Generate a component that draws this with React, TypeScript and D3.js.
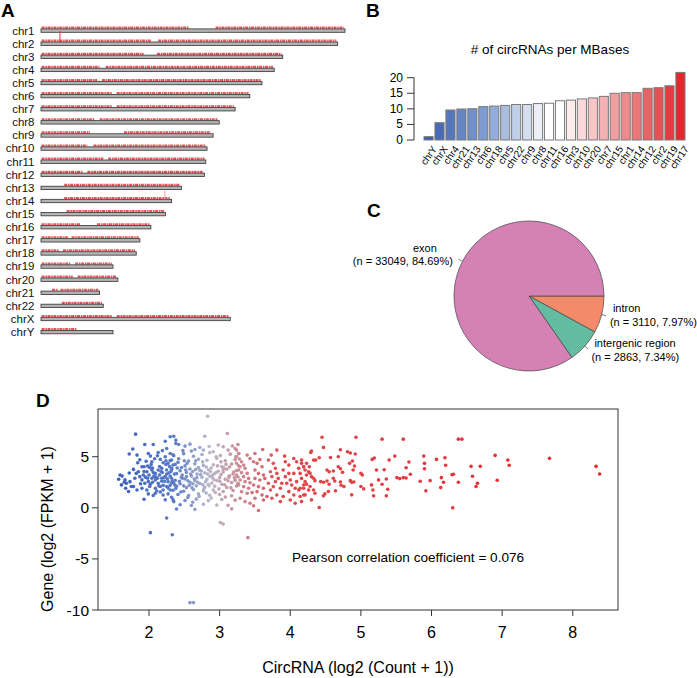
import React from "react";
import * as d3 from "d3";

const W = 697,
  H = 678;
const font = "'Liberation Sans', Arial, Helvetica, sans-serif";

// ---- panel A: chromosomes (Mb) ----
const chromNames = ["chr1", "chr2", "chr3", "chr4", "chr5", "chr6", "chr7", "chr8", "chr9", "chr10", "chr11", "chr12",
  "chr13", "chr14", "chr15", "chr16", "chr17", "chr18", "chr19", "chr20", "chr21", "chr22", "chrX", "chrY"];
const chromLengths = [249, 243, 198, 191, 181, 171, 159, 146, 141, 136, 135, 134, 115, 107, 102, 90, 81, 78, 59, 63, 48, 51, 155, 59];
// stretches of each chromosome carrying circRNAs (Mb)
const circRanges = [
  [[0.5, 121], [143, 248]],
  [[0.5, 90], [96, 242]],
  [[0.5, 84], [95, 197]],
  [[0.5, 48], [53, 190]],
  [[0.5, 46], [50, 180]],
  [[0.5, 58], [62, 170]],
  [[0.5, 58], [62, 158]],
  [[0.5, 44], [48, 145]],
  [[0.5, 40], [68, 139]],
  [[0.5, 38], [43, 135]],
  [[0.5, 51], [55, 134]],
  [[0.5, 34], [38, 133]],
  [[19, 114]],
  [[19, 106]],
  [[21, 101]],
  [[0.5, 32], [46, 89]],
  [[0.5, 22], [25, 80]],
  [[0.5, 15], [18, 77]],
  [[0.5, 24], [28, 58]],
  [[0.5, 26], [30, 62]],
  [[9, 14], [16, 47]],
  [[17, 50]],
  [[0.5, 58], [62, 154]],
  [[0.5, 29]],
];
const spikeChroms = ["chr2", "chr14"];
const spikePos = [15.5, 101.5];
const spikeValues = [10, 8];

// ---- panel B ----
const barChroms = ["chrY", "chrX", "chr4", "chr21", "chr13", "chr6", "chr18", "chr5", "chr22", "chr9", "chr8", "chr11",
  "chr16", "chr3", "chr10", "chr20", "chr7", "chr15", "chr1", "chr14", "chr12", "chr2", "chr19", "chr17"];
const barValues = [1.07, 5.56, 9.63, 9.95, 10.05, 10.7, 10.9, 11.1, 11.4, 11.4, 11.7, 11.8,
  12.6, 12.8, 13.2, 13.5, 14.0, 15.0, 15.2, 15.2, 16.6, 16.8, 17.4, 21.7];
const barTicks = [0, 5, 10, 15, 20];

// ---- panel C ----
const pieLabels = ["intron", "intergenic region", "exon"];
const pieCounts = [3110, 2863, 33049];
const pieColors = ["#f38a6a", "#63bba0", "#d581b6"];

// ---- panel D ----
const ptsBlue = [
  [1.81, 7.21], [1.94, 6.2], [2.06, 6.2], [2.23, 6.52], [2.30, 6.95], [1.77, 5.75], [1.72, 5.26], [1.83, 5.16],
  [1.99, 5.32], [2.02, 5.06], [2.13, 5.42], [2.04, 4.51], [2.25, 5.81], [2.30, 5.32], [2.23, 5.0], [2.32, 4.67],
  [1.84, 4.41], [1.90, 4.02], [1.93, 4.02], [1.98, 4.09], [2.16, 4.74], [2.20, 4.41], [2.27, 4.35], [2.34, 4.18],
  [1.78, 3.76], [1.85, 3.53], [1.82, 3.37], [1.87, 3.05], [1.92, 3.21], [1.97, 3.53], [2.04, 3.70], [2.09, 3.37],
  [2.13, 3.70], [2.18, 3.86], [2.25, 3.70], [2.32, 3.86], [1.59, 3.21], [1.62, 3.12], [1.57, 2.79], [1.66, 2.73],
  [1.61, 2.24], [1.68, 2.40], [1.73, 2.56], [1.75, 2.08], [1.80, 2.89], [1.90, 2.73], [1.94, 2.40], [1.99, 2.56],
  [2.04, 2.89], [2.09, 2.73], [2.13, 2.40], [2.18, 2.89], [2.23, 3.05], [2.27, 2.56], [2.32, 2.89], [2.35, 2.40],
  [1.67, 1.91], [1.71, 1.59], [1.78, 2.08], [1.83, 1.75], [1.90, 1.91], [1.97, 1.75], [2.01, 2.08], [2.09, 1.91],
  [2.16, 2.08], [2.20, 1.75], [2.25, 2.08], [2.30, 1.75], [1.99, 1.36], [2.09, 1.43], [2.20, 1.26], [2.27, 1.36],
  [2.32, 1.04], [1.93, 0.84], [2.23, 0.78], [2.35, 0.61], [1.95, 3.0], [2.0, 3.2], [2.05, 2.5], [2.1, 3.0],
  [2.15, 3.2], [2.2, 2.2], [2.25, 3.3], [2.3, 2.2], [2.12, 2.9], [2.07, 3.1], [2.18, 2.6], [2.28, 3.4],
  [2.22, 2.6], [1.98, 2.9], [2.02, 2.3], [2.06, 3.45], [2.14, 2.15], [2.19, 3.45], [2.26, 2.85], [2.11, 1.65],
  [1.88, 2.35], [1.93, 3.55], [2.03, 4.25], [2.15, 4.05], [2.29, 4.05], [2.24, 4.6], [2.08, 4.8], [1.96, 4.55],
  [2.36, 3.3], [2.33, 2.65], [2.38, 6.3], [2.42, 6.2],
  [2.05, 3.9], [2.17, 3.55], [2.21, 2.95], [2.31, 3.55], [2.27, 1.95], [2.16, 1.55], [2.06, 1.2], [2.12, 5.1],
  [2.19, 5.6], [2.34, 5.2], [1.87, 4.7], [1.72, 3.4], [1.65, 2.5], [2.01, 3.95], [2.24, 4.25], [2.37, 2.2],
];
const ptsMid = [
  [2.35, 5.1], [2.49, 5.3], [2.63, 5.05], [2.75, 5.22], [2.86, 5.4], [3.01, 5.12], [3.15, 5.25], [3.24, 5.0],
  [2.30, 4.62], [2.42, 4.8], [2.56, 4.58], [2.70, 4.75], [2.82, 4.66], [2.96, 4.85], [3.08, 4.6], [3.22, 4.72],
  [2.37, 4.25], [2.51, 4.1], [2.65, 4.3], [2.77, 4.15], [2.91, 4.22], [3.03, 4.05], [3.17, 4.28], [3.27, 4.12],
  [2.32, 3.75], [2.44, 3.62], [2.58, 3.8], [2.72, 3.66], [2.84, 3.72], [2.98, 3.58], [3.10, 3.78], [3.24, 3.65],
  [2.39, 3.35], [2.53, 3.46], [2.68, 3.3], [2.79, 3.42], [2.93, 3.36], [3.05, 3.5], [3.19, 3.32],
  [2.30, 3.1], [2.46, 2.98], [2.60, 3.12], [2.75, 3.0], [2.86, 3.08], [3.0, 2.95], [3.14, 3.14], [3.26, 3.02],
  [2.37, 2.7], [2.51, 2.82], [2.65, 2.66], [2.82, 2.78], [2.96, 2.68], [3.08, 2.8], [3.22, 2.7],
  [2.32, 2.45], [2.44, 2.35], [2.58, 2.5], [2.72, 2.38], [2.89, 2.42], [3.03, 2.3], [3.17, 2.48],
  [2.39, 2.1], [2.53, 1.98], [2.67, 2.15], [2.79, 2.04], [2.93, 2.12], [3.1, 2.0], [3.24, 2.14],
  [2.34, 1.72], [2.49, 1.62], [2.63, 1.78], [2.77, 1.66], [2.91, 1.74], [3.05, 1.6], [3.19, 1.7],
  [2.41, 1.3], [2.56, 1.2], [2.70, 1.34], [2.86, 1.22], [3.0, 1.3], [3.17, 1.18],
  [2.34, 0.8], [2.51, 0.72], [2.67, 0.85], [2.84, 0.7], [3.03, 0.82], [3.22, 0.75],
  [2.44, 0.3], [2.60, 0.22], [2.77, 0.35], [2.96, 0.28], [3.12, 0.24], [2.39, -0.12], [2.65, -0.15], [3.17, -0.1],
  [2.40, 3.9], [2.47, 3.2], [2.55, 2.65], [2.62, 3.55], [2.68, 2.95], [2.73, 3.25], [2.80, 2.55], [2.88, 3.9],
  [2.43, 2.6], [2.52, 3.7], [2.57, 2.2], [2.64, 2.85], [2.70, 3.95], [2.76, 2.25], [2.83, 3.3], [2.90, 2.95],
  [2.95, 3.45], [3.0, 2.6], [3.06, 3.9], [3.12, 2.65], [3.2, 3.5], [3.26, 2.4],
  [2.35, 7.01], [2.38, 6.62], [2.51, 6.04], [2.58, 6.23], [2.65, 5.71], [2.77, 5.65], [2.91, 5.49], [2.98, 6.14],
  [3.05, 5.97], [3.12, 5.65], [3.22, 5.81], [3.27, 5.32],
  [2.41, 4.45], [2.46, 3.95], [2.49, 2.15], [2.54, 4.35], [2.59, 3.3], [2.61, 1.95], [2.66, 4.6], [2.69, 2.5],
  [2.74, 3.6], [2.78, 1.9], [2.81, 4.0], [2.85, 2.15], [2.87, 3.55], [2.92, 2.75], [2.97, 4.1], [2.99, 1.85],
  [3.02, 3.25], [3.07, 2.25], [3.09, 4.25], [3.13, 3.0], [3.16, 1.95], [3.21, 2.95], [2.45, 1.55], [2.55, 1.0],
  [2.62, 0.55], [2.71, 1.1], [2.81, 1.45], [2.88, 0.95], [2.94, 1.5], [3.08, 1.05], [2.48, 5.6], [2.6, 5.55],
  [2.72, 5.9], [2.85, 6.0], [2.95, 5.0], [3.18, 6.05], [3.02, 4.5], [2.5, 4.6], [2.76, 4.5], [2.38, 1.9],
  [2.47, 2.9], [2.53, 3.05], [2.62, 2.35], [2.66, 3.75], [2.84, 2.3], [2.9, 3.2], [3.05, 3.75], [3.14, 4.0],
];
const ptsRed = [
  [3.26, 6.20], [3.24, 5.65], [3.27, 5.32], [3.23, 5.0], [3.28, 4.77], [3.31, 4.51], [3.24, 4.35], [3.29, 4.02],
  [3.34, 4.18], [3.36, 3.86], [3.27, 3.70], [3.31, 3.44], [3.39, 3.37], [3.24, 3.21], [3.34, 3.05], [3.41, 2.88],
  [3.29, 2.72], [3.36, 2.56], [3.43, 2.46], [3.27, 2.23], [3.34, 2.07], [3.41, 1.91], [3.31, 1.58], [3.39, 1.42],
  [3.46, 1.49], [3.29, 0.93], [3.36, 0.61], [3.43, 0.45], [3.48, 0.19], [3.55, -0.27], [3.39, 5.16], [3.43, 4.83],
  [3.50, 5.32], [3.48, 4.51], [3.53, 4.35], [3.57, 4.73], [3.60, 4.02], [3.50, 3.70], [3.55, 3.37], [3.62, 3.21],
  [3.50, 2.88], [3.57, 2.72], [3.64, 2.88], [3.48, 2.23], [3.55, 2.07], [3.62, 1.91], [3.69, 2.40], [3.53, 1.58],
  [3.60, 1.26], [3.67, 1.10], [3.50, 0.93], [3.62, 0.77], [3.72, 1.75], [3.61, 5.71], [3.73, 5.16], [3.69, 4.67],
  [3.76, 4.35], [3.79, 3.86], [3.72, 3.53], [3.81, 3.37], [3.74, 3.05], [3.83, 2.88], [3.79, 2.56], [3.88, 2.40],
  [3.76, 2.07], [3.86, 1.91], [3.81, 1.26], [3.90, 1.10], [3.74, 0.93], [3.86, 0.61], [3.81, 5.65], [3.92, 5.06],
  [3.93, 4.51], [3.98, 4.18], [3.90, 3.70], [3.98, 3.37], [3.93, 3.05], [4.00, 2.72], [4.05, 3.37], [3.95, 2.40],
  [4.02, 2.23], [4.07, 1.91], [3.98, 1.58], [4.05, 1.26], [4.12, 1.75], [4.00, 0.77], [4.07, 0.45], [4.14, 1.10],
  [4.05, 4.83], [4.09, 4.51], [4.12, 3.86], [4.14, 3.37], [4.16, 2.88], [4.09, 2.56], [4.19, 2.23], [4.14, 1.91],
  [4.19, 4.02], [4.16, 4.67], [4.19, 1.26],
];
const ptsFar = [
  [4.45, 6.91], [4.93, 6.91], [4.47, 5.91], [4.30, 5.55], [4.29, 5.42], [4.71, 5.68], [4.81, 5.48], [4.85, 5.36],
  [4.92, 5.26], [4.57, 4.93], [4.68, 5.0], [4.41, 4.90], [4.36, 4.67], [4.33, 4.67], [4.23, 4.35], [4.27, 4.02],
  [5.16, 4.74], [5.19, 4.87], [4.84, 4.35], [4.88, 4.58], [4.91, 4.09], [4.68, 4.02], [4.71, 3.83], [4.61, 3.60],
  [4.55, 3.53], [4.52, 3.70], [4.89, 3.70], [4.74, 3.47], [5.00, 3.38], [5.02, 3.21], [5.22, 3.70], [4.61, 2.89],
  [4.63, 2.63], [4.52, 2.63], [4.47, 2.50], [4.43, 2.56], [4.71, 2.53], [4.85, 2.66], [4.87, 2.50], [4.90, 2.52],
  [4.72, 2.21], [4.76, 2.08], [4.55, 2.31], [5.00, 2.08], [5.04, 1.85], [5.15, 2.24], [4.64, 1.66], [4.54, 1.59],
  [4.49, 1.36], [4.47, 1.17], [4.87, 1.27], [5.17, 1.75], [5.18, 1.17], [4.41, 0.03],
  [4.16, 4.35], [4.19, 4.02], [4.21, 3.70], [4.26, 3.53], [4.28, 3.38], [4.23, 3.21], [4.30, 3.05], [4.33, 2.89],
  [4.35, 2.66], [4.21, 2.56], [4.23, 2.31], [4.28, 2.08], [4.19, 1.92], [4.26, 1.75], [4.33, 1.75], [4.35, 1.43],
  [4.21, 1.27], [4.30, 0.78], [4.16, 0.61],
  [5.30, 6.72], [5.60, 6.72], [5.48, 5.06], [5.40, 4.67], [5.33, 3.73], [5.64, 3.92], [5.68, 4.48], [5.70, 3.28],
  [5.51, 2.95], [5.55, 2.86], [5.60, 2.95], [5.64, 2.92], [5.36, 2.82], [5.30, 2.30], [5.38, 1.82], [5.36, 1.17],
  [5.25, 2.73], [5.89, 5.06], [5.90, 4.35], [5.90, 3.83], [5.84, 2.60], [5.98, 2.66], [5.92, 1.66], [6.07, 4.74],
  [6.19, 4.90], [6.20, 4.16], [6.14, 2.95], [6.17, 2.50], [6.13, 1.98], [6.29, 3.24], [6.31, 3.28], [6.38, 2.50],
  [6.30, 0.0], [6.38, 6.72], [6.43, 6.72], [6.56, 4.06], [6.69, 4.06], [6.58, 3.09], [6.65, 2.40], [6.63, 2.08],
  [6.90, 5.13], [6.93, 2.70], [7.08, 4.67], [7.10, 4.16], [7.67, 4.84], [8.33, 4.06], [8.38, 3.31],
];
const ptsOutliers = [
  [2.02, -2.43], [2.33, -2.63], [2.25, -1.0], [3.01, -1.43], [3.05, -1.59], [3.40, -2.92], [2.58, -9.28], [2.63, -9.28],
  [2.79, 7.01], [2.83, 8.96], [3.11, 7.27],
];
const xTicksD = [2, 3, 4, 5, 6, 7, 8];
const yTicksD = [-10, -5, 0, 5];
const pearson = 0.076;

export default function App() {
  // ---------- A ----------
  const xA = d3.scaleLinear().domain([0, 249]).range([41, 345]);
  const yA = d3.scalePoint().domain(chromNames).range([30.5, 332]);
  const spikeScale = d3.scaleLinear().domain([0, 10]).range([0, 11]);

  // ---------- B ----------
  const xB = d3.scaleBand().domain(barChroms).range([424, 685]).paddingInner(0.2 / 1.2).paddingOuter(0);
  const yB = d3.scaleLinear().domain([0, 20]).range([140, 77.7]);
  const colB = d3
    .scaleLinear<string>()
    .domain([0, 5, 11, 12, 23])
    .range(["#3b5fae", "#7f9cd2", "#ffffff", "#ffffff", "#e0292d"]);

  // ---------- C ----------
  const cx = 529,
    cy = 296,
    r = 75;
  const pie = d3
    .pie<number>()
    .value((d) => d)
    .sort(null)
    .startAngle(Math.PI / 2)
    .endAngle(Math.PI / 2 + 2 * Math.PI);
  const arcs = pie(pieCounts);
  const arc = d3.arc<d3.PieArcDatum<number>>().innerRadius(0).outerRadius(r);
  const total = d3.sum(pieCounts);

  // ---------- D ----------
  const xD = d3.scaleLinear().domain([1.278, 8.64]).range([98, 618]);
  const yD = d3.scaleLinear().domain([-10, 9.67]).range([610, 409]);
  const colD = d3
    .scaleLinear<string>()
    .domain([1.6, 2.35, 2.85, 3.25, 3.9, 8.4])
    .range(["#3d62bd", "#5a7bc6", "#b9b9cc", "#c98f98", "#e0474b", "#e8262e"]);
  const allPts = [...ptsBlue, ...ptsMid, ...ptsRed, ...ptsFar, ...ptsOutliers];

  return (
    <svg width={W} height={H} style={{ position: "absolute", left: 0, top: 0, background: "#fff" }} fontFamily={font}>
      {/* panel letters */}
      <text x={1} y={17} fontSize={19} fontWeight="bold">A</text>
      <text x={366} y={17} fontSize={19} fontWeight="bold">B</text>
      <text x={367} y={217} fontSize={19} fontWeight="bold">C</text>
      <text x={36} y={407} fontSize={19} fontWeight="bold">D</text>

      {/* ---------- A ---------- */}
      <g>
        {chromNames.map((c, i) => {
          const y = yA(c)!;
          return (
            <g key={c}>
              <text x={34.5} y={y + 4} fontSize={11.5} textAnchor="end" fill="#111">{c}</text>
              {circRanges[i].map(([s, e], j) => (
                <line key={j} x1={xA(s)} x2={xA(e)} y1={y - 2.9} y2={y - 2.9} stroke="#e8353a"
                  strokeWidth={2.2} strokeDasharray="3 0.8 1.5 0.6" opacity={0.85} />
              ))}
              <rect x={xA(0)} y={y - 1.6} width={xA(chromLengths[i]) - xA(0)} height={3.4} fill="#b3b3b3" stroke="#333" strokeWidth={0.8} />
            </g>
          );
        })}
        {spikeChroms.map((c, i) => (
          <line key={c} x1={xA(spikePos[i])} x2={xA(spikePos[i])} y1={yA(c)! - 1.6}
            y2={yA(c)! - 1.6 - spikeScale(spikeValues[i])} stroke={i === 0 ? "#e8353a" : "#f39a9a"} strokeWidth={1} />
        ))}
      </g>

      {/* ---------- B ---------- */}
      <g>
        <text x={550} y={54} fontSize={13.5} textAnchor="middle">
          # of circRNAs per MBases
        </text>
        <line x1={414} x2={414} y1={yB(0)} y2={yB(20)} stroke="#333" />
        {barTicks.map((t) => (
          <g key={t}>
            <line x1={407} x2={414} y1={yB(t)} y2={yB(t)} stroke="#333" />
            <text x={403} y={yB(t) + 4} fontSize={12} textAnchor="end">{t}</text>
          </g>
        ))}
        {barChroms.map((c, i) => (
          <rect key={c} x={xB(c)} y={yB(barValues[i])} width={xB.bandwidth()} height={yB(0) - yB(barValues[i])}
            fill={colB(i)} stroke="#7a7a7a" strokeWidth={1} />
        ))}
        {barChroms.map((c) => (
          <text key={c} transform={`translate(${xB(c)! + xB.bandwidth() / 2 + 6},${147}) rotate(-55)`}
            fontSize={10} textAnchor="end" dominantBaseline="central">{c}</text>
        ))}
      </g>

      {/* ---------- C ---------- */}
      <g transform={`translate(${cx},${cy})`}>
        {arcs.map((a, i) => (
          <path key={i} d={arc(a)!} fill={pieColors[i]} stroke="#444" strokeWidth={0.7} />
        ))}
        {arcs.map((a, i) => {
          const m = (a.startAngle + a.endAngle) / 2;
          const sx = Math.sin(m),
            sy = -Math.cos(m);
          const lx = sx * r * 1.1,
            ly = sy * r * 1.1;
          const pct = ((pieCounts[i] / total) * 100).toFixed(2);
          const right = sx > 0;
          return (
            <g key={"l" + i} fontSize={11}>
              <line x1={sx * r} y1={sy * r} x2={sx * r * 1.06} y2={sy * r * 1.06} stroke="#444" strokeWidth={0.7} />
              {right ? (
                <>
                  <text x={lx + 4} y={ly - 4}>{pieLabels[i]}</text>
                  <text x={lx + 1} y={ly + 10}>{`(n = ${pieCounts[i]}, ${pct}%)`}</text>
                </>
              ) : (
                <>
                  <text x={lx - 31} y={ly - 6} textAnchor="middle">{pieLabels[i]}</text>
                  <text x={lx - 3} y={ly + 7} textAnchor="end">{`(n = ${pieCounts[i]}, ${pct}%)`}</text>
                </>
              )}
            </g>
          );
        })}
      </g>

      {/* ---------- D ---------- */}
      <g>
        {allPts.map(([x, y], i) => (
          <circle key={i} cx={xD(x)} cy={yD(y)} r={1.8} fill={colD(x)} />
        ))}
        <rect x={98} y={409} width={520} height={201} fill="none" stroke="#333" strokeWidth={1} />
        {yTicksD.map((t) => (
          <g key={t}>
            <line x1={92} x2={98} y1={yD(t)} y2={yD(t)} stroke="#333" />
            <text x={89} y={yD(t) + 5.5} fontSize={15.5} textAnchor="end">{t}</text>
          </g>
        ))}
        {xTicksD.map((t) => (
          <g key={t}>
            <line x1={xD(t)} x2={xD(t)} y1={610} y2={616} stroke="#333" />
            <text x={xD(t)} y={638} fontSize={16} textAnchor="middle">{t}</text>
          </g>
        ))}
        <text transform={`translate(53,529) rotate(-90)`} fontSize={16} textAnchor="middle">
          Gene (log2 (FPKM + 1)
        </text>
        <text x={358} y={673} fontSize={16} textAnchor="middle">
          CircRNA (log2 (Count + 1))
        </text>
        <text x={292} y={562} fontSize={13.6}>
          {`Pearson correlation coefficient = ${pearson}`}
        </text>
      </g>
    </svg>
  );
}
